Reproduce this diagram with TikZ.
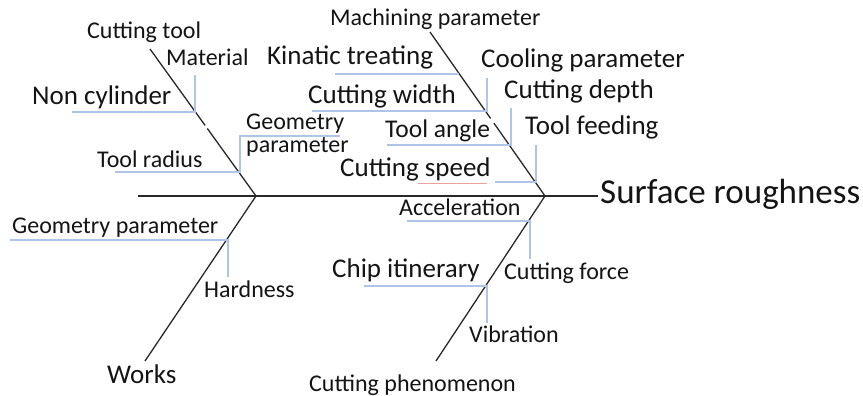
\documentclass[tikz,border=0pt]{standalone}
\usepackage{fontspec}
\usetikzlibrary{calc}
\setmainfont{Carlito}
\definecolor{twigblue}{RGB}{176,196,232}
\definecolor{inkgrey}{RGB}{40,40,40}
\definecolor{spellred}{RGB}{240,160,160}
\begin{document}
\begin{tikzpicture}[x=1pt,y=-1pt,
  bone/.style={draw=inkgrey, line width=1.3pt},
  spine/.style={draw=inkgrey, line width=1.5pt},
  twig/.style={draw=twigblue, line width=1.1pt},
  lbl/.style={anchor=base west, inner sep=0pt, text=black!92,
    font=\fontsize{24}{23}\selectfont},
  lblm/.style={lbl, font=\fontsize{27}{32}\selectfont},
  lbll/.style={lbl, font=\fontsize{35}{40}\selectfont}]
\useasboundingbox (0,0) rectangle (863,396);

% main spine and the four bones
\coordinate (tail) at (138,196);
\coordinate (head) at (598,196);
\coordinate (j1) at (256,196);
\coordinate (j2) at (545,196);
\coordinate (lu) at (150,49);
\coordinate (ll) at (145,361);
\coordinate (ru) at (430,32);
\coordinate (rl) at (436,361);

\draw[spine] (tail) -- (head);
% the upper bones are broken where labels sit over them
\draw[bone] (lu) -- ($(lu)!0.520!(j1)$);
\draw[bone] ($(lu)!0.541!(j1)$) -- (j1);
\draw[bone] (ll) -- (j1);
\draw[bone] (ru) -- ($(ru)!0.527!(j2)$);
\draw[bone] ($(ru)!0.556!(j2)$) -- (j2);
\draw[bone] (rl) -- (j2);

% category labels
\node[lbl]  (ctool)  at (87,39)   {Cutting tool};
\node[lbll] (effect) at (600,203) {Surface roughness};
\node[lbl]  (mach)   at (330,26)  {Machining parameter};
\node[lblm] (works)  at (107,383) {Works};
\node[lbl]  (phen)   at (309,391) {Cutting phenomenon};

% cutting tool causes
\node[lbl]  (mat)   at (166,66)  {Material};
\node[lblm] (noncyl) at (32,104) {Non cylinder};
\node[lbl]  (trad)  at (97,167)  {Tool radius};
\node[lbl, align=left] (tgeo) at (246,152) {Geometry\\parameter};

\coordinate (a0) at (195,75);
\coordinate (a1) at (195,112);
\coordinate (a2) at (72,112);
\draw[twig] (a0) -- (a1) -- (a2);
\coordinate (b0) at (340,136);
\coordinate (b1) at (240,136);
\coordinate (b2) at (240,172);
\coordinate (b3) at (115,172);
\draw[twig] (b0) -- (b1) -- (b2) -- (b3);

% machining parameter causes
\node[lblm] (kin)   at (267,65)  {Kinatic treating};
\node[lblm] (cool)  at (481,68)  {Cooling parameter};
\node[lblm] (cwid)  at (308,103) {Cutting width};
\node[lblm] (cdep)  at (504,99)  {Cutting depth};
\node[lbl, font=\fontsize{25.5}{30}\selectfont] (tang) at (385,138) {Tool angle};
\node[lblm] (tfeed) at (525,135) {Tool feeding};
\node[lblm] (cspd)  at (340,176) {Cutting speed};

\coordinate (c0) at (335,74);
\coordinate (c1) at (459,74);
\draw[twig] (c0) -- (c1);
\coordinate (d0) at (487,78);
\coordinate (d1) at (487,111);
\coordinate (d2) at (312,111);
\draw[twig] (d0) -- (d1) -- (d2);
\coordinate (e0) at (511,108);
\coordinate (e1) at (511,145);
\coordinate (e2) at (387,145);
\draw[twig] (e0) -- (e1) -- (e2);
\coordinate (f0) at (536,145);
\coordinate (f1) at (536,182);
\coordinate (f2) at (495,182);
\draw[twig] (f0) -- (f1) -- (f2);
\coordinate (s0) at (418,183);
\coordinate (s1) at (487,183);
\draw[spellred, line width=0.8pt] (s0) -- (s1);

% works causes
\node[lbl] (wgeo) at (12,233)  {Geometry parameter};
\node[lbl] (hard) at (204,297) {Hardness};
\coordinate (g0) at (10,240);
\coordinate (g1) at (228,240);
\coordinate (g2) at (228,277);
\draw[twig] (g0) -- (g1) -- (g2);

% cutting phenomenon causes
\node[lbl]  (acc)   at (399,215) {Acceleration};
\node[lbl]  (cforce) at (504,279) {Cutting force};
\node[lblm] (chip)  at (332,277) {Chip itinerary};
\node[lbl]  (vib)   at (469,342) {Vibration};
\coordinate (h0) at (407,221);
\coordinate (h1) at (530,221);
\coordinate (h2) at (530,259);
\draw[twig] (h0) -- (h1) -- (h2);
\coordinate (k0) at (364,286);
\coordinate (k1) at (487,286);
\coordinate (k2) at (487,323);
\draw[twig] (k0) -- (k1) -- (k2);
\end{tikzpicture}
\end{document}
